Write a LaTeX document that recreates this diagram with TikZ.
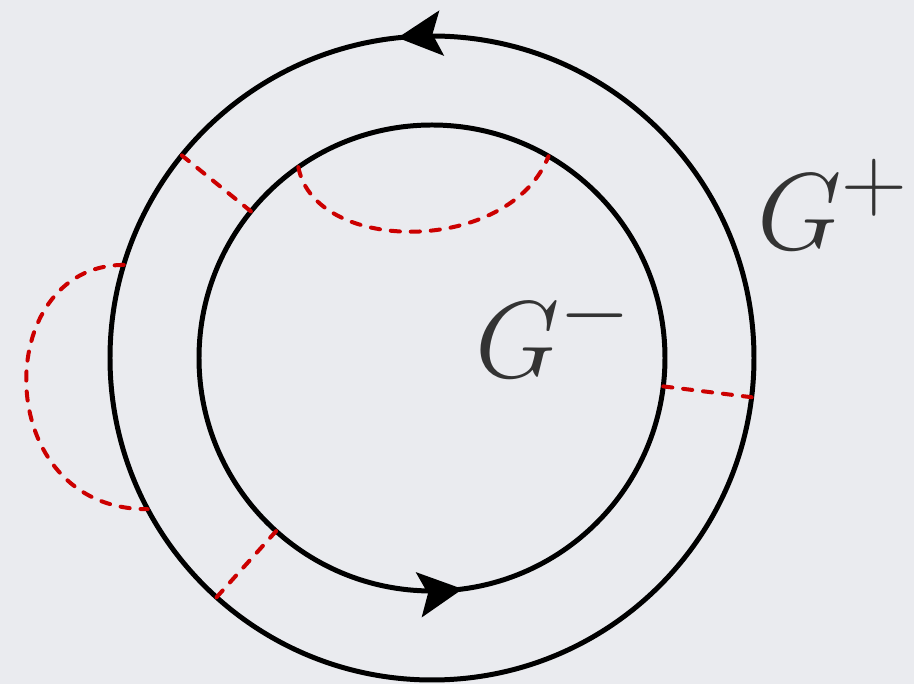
\documentclass[tikz,border=0pt]{standalone}
\usepackage{amsmath}
\usepackage{tikz}
\usetikzlibrary{arrows.meta,calc,decorations.markings}
\definecolor{bgcol}{RGB}{234,235,239}
\definecolor{chordred}{RGB}{204,0,0}
\definecolor{labelgray}{RGB}{51,51,51}
\begin{document}
\begin{tikzpicture}[>={Stealth[length=4.4mm,width=4.5mm,inset=0.9mm]},
    ring/.style={line width=1.42pt},
    chord/.style={chordred,line width=1.14pt,line cap=round,dash pattern=on 2.6pt off 3.1pt},
    glabel/.style={labelgray,scale=1.25,font=\Huge}]
    \fill[bgcol] (0,0) rectangle (9.14,6.84);
    \useasboundingbox (0,0) rectangle (9.14,6.84);
    \coordinate (O) at (4.32,3.26);
    \def\Rout{3.22}
    \def\Rin{2.33}
    % the two circles with their direction
    \draw[ring,postaction={decorate},decoration={markings,mark=at position 0.267 with {\arrow{>}}}]
        ($(O)+(0:\Rout)$) arc (0:360:\Rout);
    \draw[ring,postaction={decorate},decoration={markings,mark=at position 0.771 with {\arrow{>}}}]
        ($(O)+(0:\Rin)$) arc (0:360:\Rin);
    % red dashed connections
    \coordinate (a1) at ($(O)+(141:\Rout)$);
    \coordinate (a2) at ($(O)+(141:\Rin)$);
    \coordinate (b1) at ($(O)+(-7:\Rin)$);
    \coordinate (b2) at ($(O)+(-7:\Rout)$);
    \coordinate (c1) at ($(O)+(228:\Rout)$);
    \coordinate (c2) at ($(O)+(228:\Rin)$);
    \coordinate (d1) at ($(O)+(125:\Rin)$);
    \coordinate (d2) at ($(O)+(60:\Rin)$);
    \coordinate (e1) at ($(O)+(163.2:\Rout)$);
    \coordinate (e2) at ($(O)+(208:\Rout)$);
    \draw[chord] (a1) -- (a2);
    \draw[chord] (b1) -- (b2);
    \draw[chord] (c1) -- (c2);
    \draw[chord] (d1) .. controls (3.15,4.29) and (5.10,4.29) .. (d2);
    \draw[chord] (e1) .. controls (-0.10,4.19) and (-0.10,1.74) .. (e2);
    \node[glabel,anchor=base west] (gplus) at (7.42,4.34) {$G^+$};
    \node[glabel,anchor=base west] (gminus) at (4.60,3.06) {$G^-$};
\end{tikzpicture}
\end{document}
